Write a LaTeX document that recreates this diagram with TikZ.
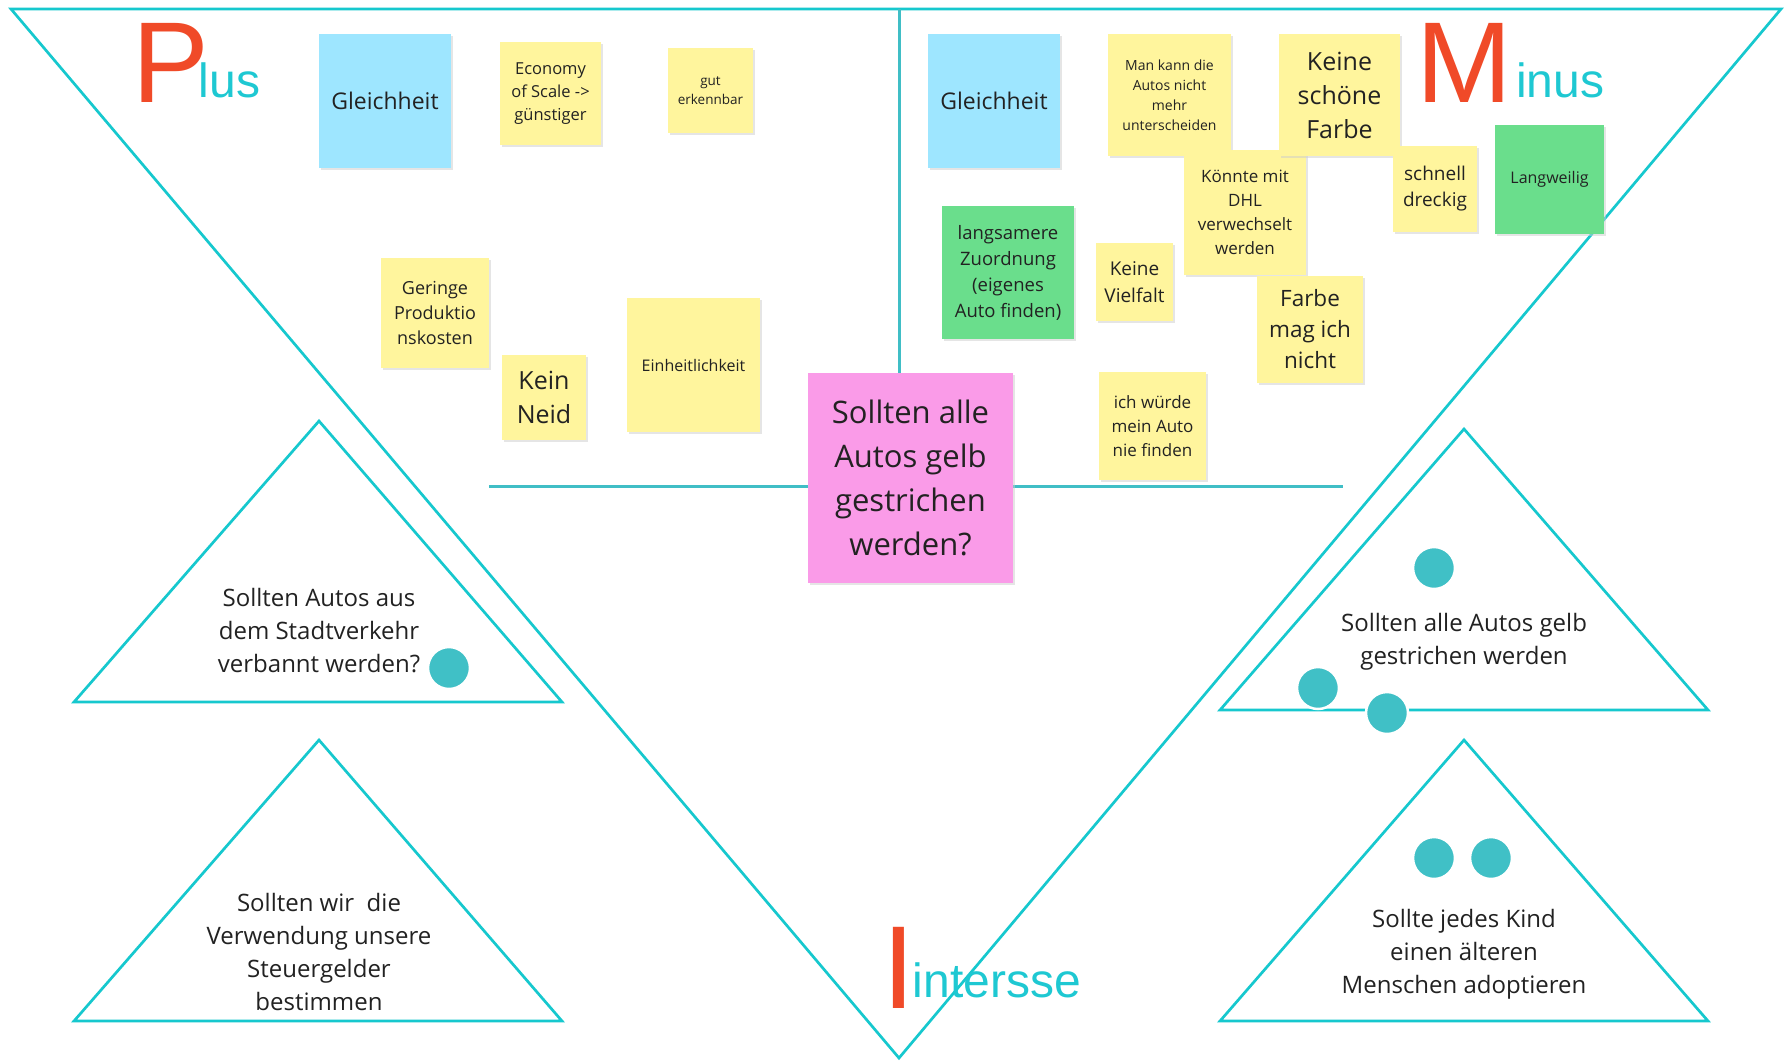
\documentclass[tikz,border=0pt]{standalone}
\usepackage{fontspec}
\setmainfont{Open Sans}
\newfontfamily\arialfont{Liberation Sans}
\usetikzlibrary{shadows}

\definecolor{trig}{RGB}{22,200,206}
\definecolor{axis}{RGB}{64,190,198}
\definecolor{dotc}{RGB}{64,192,198}
\definecolor{bigred}{RGB}{240,74,40}
\definecolor{bigcyan}{RGB}{30,200,210}
\definecolor{stickyY}{RGB}{255,245,157}
\definecolor{stickyG}{RGB}{106,222,140}
\definecolor{stickyB}{RGB}{158,230,255}
\definecolor{stickyP}{RGB}{250,155,232}
\definecolor{ink}{RGB}{34,34,34}

\tikzset{
  tri/.style={draw=trig, line width=2.7pt, line join=miter},
  axisline/.style={draw=axis, line width=3pt},
  note/.style={inner sep=3pt, align=center, text=ink,
    drop shadow={shadow xshift=1.5pt, shadow yshift=-2pt, fill=black!20, opacity=0.5}},
  vote/.style={circle, fill=dotc, draw=white, line width=2.5pt, minimum size=42pt, inner sep=0pt},
  question/.style={align=center, text=ink, font=\fontsize{24}{33}\selectfont},
  heading/.style={anchor=base west, inner sep=0pt, font=\arialfont},
}

\begin{document}
\begin{tikzpicture}[x=1pt, y=-1pt]
  \def\cw{1784} \def\ch{1061}
  \useasboundingbox (0,0) rectangle (\cw,\ch);
  \fill[white] (0,0) rectangle (\cw,\ch);

  % big funnel and axes
  \draw[tri] (11,9) -- (1781,9) -- (899,1058) -- cycle;
  \draw[axisline] (899,9) -- (899,380);
  \draw[axisline] (489,486) -- (1343,486);

  % small triangles
  \draw[tri] (74,702) -- (319,421) -- (562,702) -- cycle;
  \draw[tri] (74,1021) -- (319,740) -- (562,1021) -- cycle;
  \draw[tri] (1220,710) -- (1464,429) -- (1708,710) -- cycle;
  \draw[tri] (1220,1021) -- (1464,740) -- (1708,1021) -- cycle;

  % headings
  \node[heading] (plus) at (132,102)
    {\textcolor{bigred}{\fontsize{115}{115}\selectfont P}\kern-10pt\raisebox{5pt}{\textcolor{bigcyan}{\fontsize{48}{48}\selectfont lus}}};
  \node[heading] (minus) at (1416,102)
    {\textcolor{bigred}{\fontsize{115}{115}\selectfont M}\kern4pt\raisebox{5pt}{\textcolor{bigcyan}{\fontsize{48}{48}\selectfont inus}}};
  \node[heading] (interesse) at (882,1008)
    {\textcolor{bigred}{\fontsize{118}{118}\selectfont I}\kern-2pt\raisebox{11pt}{\textcolor{bigcyan}{\fontsize{48}{48}\selectfont intersse}}};

  % Plus notes
  \node[note, fill=stickyB, minimum width=132pt, minimum height=134pt, font=\fontsize{23}{30}\selectfont] (gleichL) at (385,101) {Gleichheit};
  \node[note, fill=stickyY, minimum width=101pt, minimum height=103pt, font=\fontsize{16.5}{23}\selectfont] (economy) at (550.5,93.5) {Economy\\of Scale ->\\günstiger};
  \node[note, fill=stickyY, minimum width=85pt, minimum height=85pt, font=\fontsize{13.5}{19}\selectfont] (erkennbar) at (710.5,90.5) {gut\\erkennbar};
  \node[note, fill=stickyY, minimum width=108pt, minimum height=110pt, font=\fontsize{18}{25}\selectfont] (geringe) at (435,313) {Geringe\\Produktio\\nskosten};
  \node[note, fill=stickyY, minimum width=84pt, minimum height=85pt, font=\fontsize{25}{34}\selectfont] (neid) at (544,397.5) {Kein\\Neid};
  \node[note, fill=stickyY, minimum width=133pt, minimum height=134pt, font=\fontsize{16}{22}\selectfont] (einheit) at (693.5,365) {Einheitlichkeit};

  % Minus notes
  \node[note, fill=stickyB, minimum width=132pt, minimum height=134pt, font=\fontsize{23}{30}\selectfont] (gleichR) at (994,101) {Gleichheit};
  \node[note, fill=stickyG, minimum width=132pt, minimum height=133pt, font=\fontsize{18.5}{26}\selectfont] (langsam) at (1008,272.5) {langsamere\\Zuordnung\\(eigenes\\Auto finden)};
  \node[note, fill=stickyY, minimum width=123pt, minimum height=122pt, font=\fontsize{14}{20}\selectfont] (mankann) at (1169.5,95) {Man kann die\\Autos nicht\\mehr\\unterscheiden};
  \node[note, fill=stickyY, minimum width=122pt, minimum height=125pt, font=\fontsize{17}{24}\selectfont] (dhl) at (1245,212.5) {Könnte mit\\DHL\\verwechselt\\werden};
  \node[note, fill=stickyY, minimum width=121pt, minimum height=122pt, font=\fontsize{25}{34}\selectfont] (schoen) at (1339.5,95) {Keine\\schöne\\Farbe};
  \node[note, fill=stickyY, minimum width=84pt, minimum height=86pt, font=\fontsize{19}{26}\selectfont] (dreckig) at (1435,189) {schnell\\dreckig};
  \node[note, fill=stickyG, minimum width=109pt, minimum height=109pt, font=\fontsize{16}{22}\selectfont] (langweilig) at (1549.5,179.5) {Langweilig};
  \node[note, fill=stickyY, minimum width=77pt, minimum height=78pt, font=\fontsize{19}{27}\selectfont] (vielfalt) at (1134.5,282) {Keine\\Vielfalt};
  \node[note, fill=stickyY, minimum width=106pt, minimum height=107pt, font=\fontsize{22.5}{31}\selectfont] (farbe) at (1310,329.5) {Farbe\\mag ich\\nicht};
  \node[note, fill=stickyY, minimum width=107pt, minimum height=108pt, font=\fontsize{17}{24}\selectfont] (niefinden) at (1152.5,426) {ich würde\\mein Auto\\nie finden};

  % central question
  \node[note, fill=stickyP, minimum width=205pt, minimum height=210pt, font=\fontsize{31}{44}\selectfont] (frage) at (910.5,478) {Sollten alle\\Autos gelb\\gestrichen\\werden?};

  % topics in the triangles
  \node[question] (topicA) at (319,631) {Sollten Autos aus\\dem Stadtverkehr\\verbannt werden?};
  \node[question] (topicB) at (319,951.5) {Sollten wir\ \ die\\Verwendung unsere\\Steuergelder\\bestimmen};
  \node[question] (topicC) at (1464,642) {Sollten alle Autos gelb\\gestrichen werden};
  \node[question] (topicD) at (1464,954.5) {Sollte jedes Kind\\einen älteren\\Menschen adoptieren};

  % votes
  \foreach \n/\vx/\vy in {vA/449/668, vC1/1434/568, vC2/1318/688, vC3/1387/713, vD1/1434/858, vD2/1491/858} {
    \node[vote] (\n) at (\vx,\vy) {};
  }
\end{tikzpicture}
\end{document}
